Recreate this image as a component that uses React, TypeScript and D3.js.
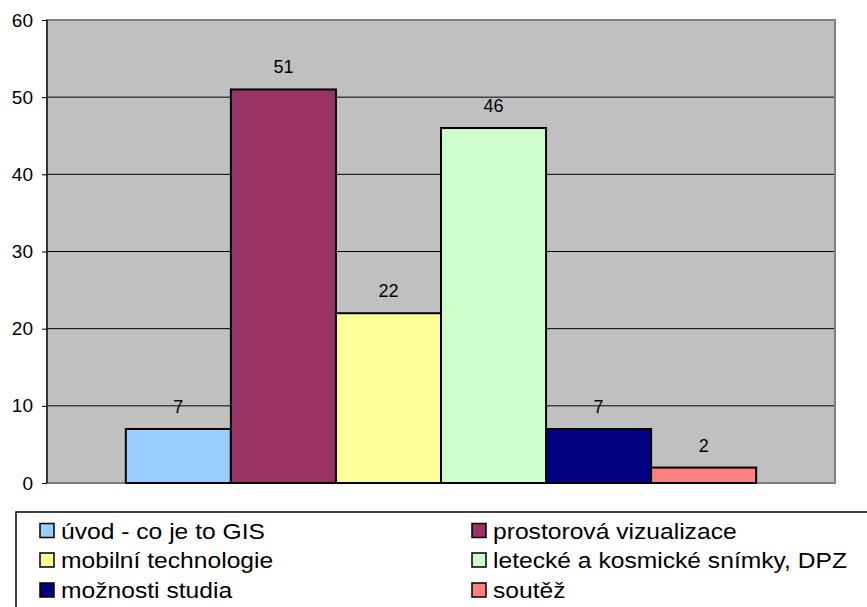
import { useEffect, useRef } from 'react'
import * as d3 from 'd3'

const series = [
  'úvod - co je to GIS',
  'prostorová vizualizace',
  'mobilní technologie',
  'letecké a kosmické snímky, DPZ',
  'možnosti studia',
  'soutěž'
]
const values = [7, 51, 22, 46, 7, 2]
const colors = ['#99CCFF', '#993366', '#FFFF99', '#CCFFCC', '#000080', '#FF8080']
const yTicks = [0, 10, 20, 30, 40, 50, 60]

export default function App() {
  const svgRef = useRef<SVGSVGElement | null>(null)

  useEffect(() => {
    if (!svgRef.current) return
    const svg = d3.select(svgRef.current)
    svg.selectAll('*').remove()

    const width = 867
    const height = 607
    const left = 47, right = 835, top = 20, bottom = 483
    const font = '"Liberation Sans", Arial, sans-serif'

    svg.attr('width', width).attr('height', height)

    const y = d3.scaleLinear().domain([0, 60]).range([bottom, top])
    // one category, gap width 25%
    const groupW = (right - left) / 1.25
    const x = d3.scaleBand<string>()
      .domain(series)
      .range([left + (right - left - groupW) / 2, right - (right - left - groupW) / 2])
      .padding(0)

    svg.append('rect')
      .attr('x', left).attr('y', top)
      .attr('width', right - left).attr('height', bottom - top)
      .attr('fill', '#C0C0C0')

    // gridlines
    svg.append('g')
      .selectAll('line')
      .data(yTicks.filter(t => t > 0 && t < 60))
      .enter().append('line')
      .attr('x1', left).attr('x2', right)
      .attr('y1', d => y(d)).attr('y2', d => y(d))
      .attr('stroke', '#000').attr('stroke-width', 1)

    // plot border
    svg.append('rect')
      .attr('x', left).attr('y', top)
      .attr('width', right - left).attr('height', bottom - top)
      .attr('fill', 'none')
      .attr('stroke', '#808080').attr('stroke-width', 2)

    // bars
    svg.append('g')
      .selectAll('rect')
      .data(values)
      .enter().append('rect')
      .attr('x', (d, i) => x(series[i])!)
      .attr('y', d => y(d))
      .attr('width', x.bandwidth())
      .attr('height', d => bottom - y(d))
      .attr('fill', (d, i) => colors[i])
      .attr('stroke', '#000').attr('stroke-width', 2)

    // value labels
    svg.append('g')
      .selectAll('text')
      .data(values)
      .enter().append('text')
      .attr('x', (d, i) => x(series[i])! + x.bandwidth() / 2)
      .attr('y', d => y(d) - 16)
      .attr('text-anchor', 'middle')
      .style('font-family', font)
      .style('font-size', '18px')
      .attr('fill', '#000')
      .text(d => d)

    // y axis
    const axis = svg.append('g').attr('transform', `translate(${left},0)`)
      .call(d3.axisLeft(y).tickValues(yTicks).tickSize(5).tickPadding(9))
    axis.attr('font-family', null).attr('font-size', null)
    axis.select('.domain').attr('stroke', '#333').attr('stroke-width', 2).attr('d', `M0,${top}V${bottom}`)
    axis.selectAll('.tick line').attr('stroke', '#000')
    axis.selectAll('.tick text')
      .style('font-family', font)
      .style('font-size', '19px')
      .attr('fill', '#000')

    // legend
    svg.append('rect')
      .attr('x', 16).attr('y', 512)
      .attr('width', 900).attr('height', 120)
      .attr('fill', '#fff')
      .attr('stroke', '#000').attr('stroke-width', 1.5)

    const colX = [40, 472]
    const rowY = [530.5, 560, 590]
    const item = svg.append('g')
      .selectAll('g')
      .data(series)
      .enter().append('g')
      .attr('transform', (d, i) => `translate(${colX[i % 2]},${rowY[Math.floor(i / 2)]})`)

    item.append('rect')
      .attr('x', 0).attr('y', -7)
      .attr('width', 14).attr('height', 14)
      .attr('fill', (d, i) => colors[i])
      .attr('stroke', '#000').attr('stroke-width', 1.5)

    item.append('text')
      .attr('transform', 'translate(21,8) scale(1.12,1)')
      .style('font-family', font)
      .style('font-size', '22px')
      .attr('fill', '#000')
      .text(d => d)
  }, [])

  return (
    <svg ref={svgRef} style={{ position: 'absolute', left: 0, top: 0 }}></svg>
  )
}
